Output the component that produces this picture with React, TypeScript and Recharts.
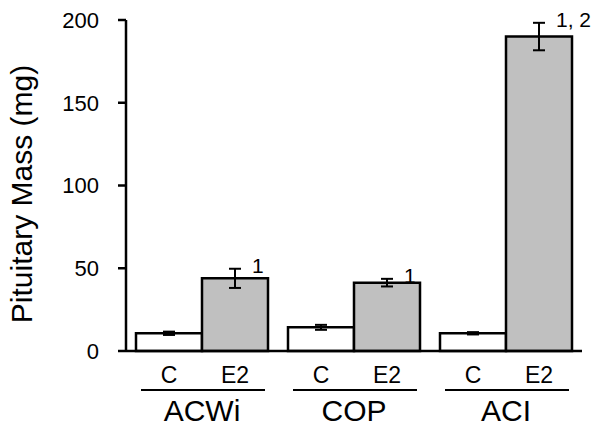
import React from 'react';
import { BarChart, Bar, XAxis, YAxis, ErrorBar, LabelList } from 'recharts';

const strains = ['ACWi', 'COP', 'ACI'];
const controlMass = [10.7, 14.3, 10.7];
const controlErr = [1.0, 1.5, 0.7];
const e2Mass = [43.9, 41.3, 190.0];
const e2Err = [5.8, 2.3, 8.3];
const e2Marks = ['1', '1', '1, 2'];
const yTicks = [0, 50, 100, 150, 200];

const data = strains.map((strain, i) => ({
  strain,
  c: controlMass[i],
  cErr: controlErr[i],
  e2: e2Mass[i],
  e2Err: e2Err[i],
  mark: e2Marks[i],
}));

const font = '"Liberation Sans", Arial, sans-serif';

const GroupTick = (props: any) => {
  const { x, payload } = props;
  const base = 351;
  return (
    <g fontFamily={font} fill="#000">
      <text x={x - 33} y={base + 32} textAnchor="middle" fontSize={23}>C</text>
      <text x={x + 33} y={base + 32} textAnchor="middle" fontSize={23}>E2</text>
      <line x1={x - 61} x2={x + 63} y1={base + 39} y2={base + 39} stroke="#000" strokeWidth={2} />
      <text x={x} y={base + 70} textAnchor="middle" fontSize={30}>{payload.value}</text>
    </g>
  );
};

const MarkLabel = (props: any) => {
  const { x, y, width, height, index } = props;
  const d = data[index];
  const errTop = y - (d.e2Err * height) / d.e2;
  return (
    <text x={x + width / 2 + 17} y={errTop + 4} fontSize={21} fontFamily={font} fill="#000">
      {d.mark}
    </text>
  );
};

const YTitle = () => (
  <text
    x={32}
    y={194}
    transform="rotate(-90, 32, 194)"
    textAnchor="middle"
    fontSize={30}
    fontFamily={font}
    fill="#000"
  >
    Pituitary Mass (mg)
  </text>
);

export default function App() {
  return (
    <div style={{ position: 'absolute', left: 0, top: 0, background: '#fff' }}>
      <BarChart
        width={600}
        height={434}
        data={data}
        margin={{ top: 20, right: 18, bottom: 0, left: 0 }}
        barCategoryGap={10}
        barGap={0}
      >
        <XAxis
          dataKey="strain"
          height={83}
          tickLine={false}
          axisLine={{ stroke: '#000', strokeWidth: 2.5 }}
          tick={<GroupTick />}
          interval={0}
        />
        <YAxis
          width={126}
          domain={[0, 200]}
          ticks={yTicks}
          tickSize={8}
          tickMargin={19}
          axisLine={{ stroke: '#000', strokeWidth: 2.5 }}
          tickLine={{ stroke: '#000', strokeWidth: 2.5 }}
          tick={{ fill: '#000', fontSize: 22, fontFamily: font }}
          label={<YTitle />}
        />
        <Bar dataKey="c" fill="#fff" stroke="#000" strokeWidth={2.5} isAnimationActive={false}>
          <ErrorBar dataKey="cErr" width={6} stroke="#000" strokeWidth={2} direction="y" />
        </Bar>
        <Bar dataKey="e2" fill="#c0c0c0" stroke="#000" strokeWidth={2.5} isAnimationActive={false}>
          <ErrorBar dataKey="e2Err" width={6} stroke="#000" strokeWidth={2} direction="y" />
          <LabelList dataKey="mark" content={<MarkLabel />} />
        </Bar>
      </BarChart>
    </div>
  );
}
